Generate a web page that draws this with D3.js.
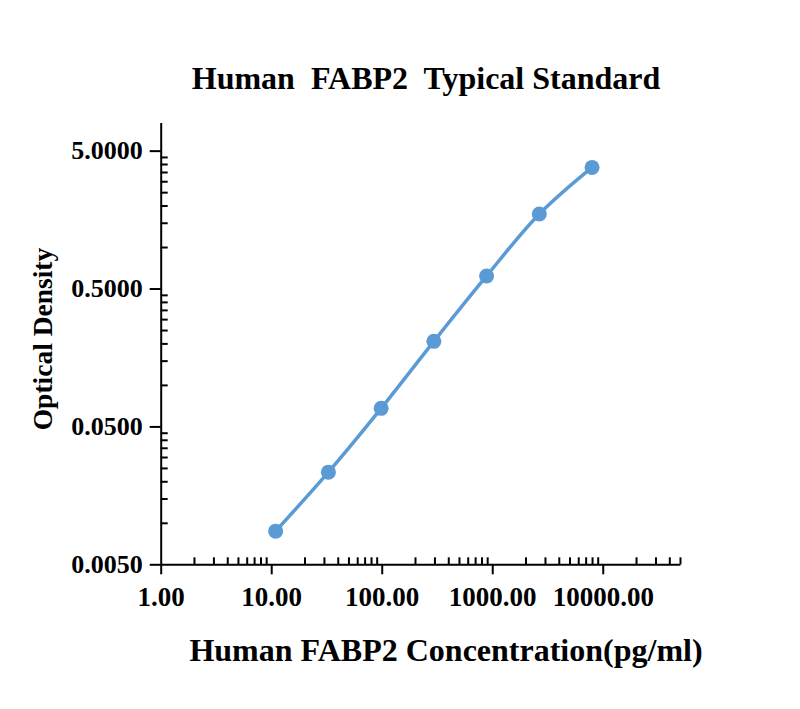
<!DOCTYPE html>
<html>
<head>
<meta charset="utf-8">
<script src="https://cdn.jsdelivr.net/npm/d3@7"></script>
<style>
  body { margin: 0; background: #fff; }
  text { font-family: "Liberation Serif", "Times New Roman", serif; font-weight: bold; fill: #000; }
</style>
</head>
<body>
<svg id="chart" width="800" height="709"></svg>
<script>
// standard curve, 3-fold dilutions
const concentrations = [10.97, 32.92, 98.77, 296.3, 888.9, 2666.7, 8000]
const opticalDensity = [0.0087, 0.0233, 0.0676, 0.207, 0.617, 1.735, 3.78]

const xMajorTicks = [1, 10, 100, 1000, 10000]
const yMajorTicks = [0.005, 0.05, 0.5, 5]

const TITLE = 'Human  FABP2  Typical Standard'
const X_TITLE = 'Human FABP2 Concentration(pg/ml)'
const Y_TITLE = 'Optical Density'

const svg = d3.select('#chart')
const blue = '#5b9bd5'

const x = d3.scaleLog().domain([1, 50000]).range([160.7, 680])
const y = d3.scaleLog().domain([0.005, 8]).range([564.3, 122.5])

// minor ticks: k * 10^n, k = 2..9
const xMinorTicks = []
for (let p = 0; p <= 4; p++) {
  for (let k = 2; k <= 9; k++) {
    const v = k * Math.pow(10, p)
    if (v <= 50000) xMinorTicks.push(v)
  }
}
const yMinorTicks = []
yMajorTicks.slice(0, 3).forEach((base) => {
  for (let k = 2; k <= 9; k++) yMinorTicks.push(base * k)
})

function styleAxis(g, size) {
  g.selectAll('path, line').attr('stroke', '#000').attr('stroke-width', 2)
  g.selectAll('text').attr('font-size', size).attr('fill', '#000')
}

// x axis
const xMinor = svg.append('g')
  .attr('transform', `translate(0,${y(0.005)})`)
  .call(d3.axisBottom(x).tickValues(xMinorTicks).tickSizeInner(-7).tickSizeOuter(0).tickFormat(''))
xMinor.call(styleAxis, 27)
const xMajor = svg.append('g')
  .attr('transform', `translate(0,${y(0.005)})`)
  .call(d3.axisBottom(x).tickValues(xMajorTicks).tickSize(10).tickPadding(13).tickFormat(d3.format('.2f')))
xMajor.call(styleAxis, 27)
xMajor.select('.domain').remove()

// y axis
const yMinor = svg.append('g')
  .attr('transform', `translate(${x(1)},0)`)
  .call(d3.axisLeft(y).tickValues(yMinorTicks).tickSizeInner(-7).tickSizeOuter(0).tickFormat(''))
yMinor.call(styleAxis, 26)
const yMajor = svg.append('g')
  .attr('transform', `translate(${x(1)},0)`)
  .call(d3.axisLeft(y).tickValues(yMajorTicks).tickSize(11).tickPadding(7).tickFormat(d3.format('.4f')))
yMajor.call(styleAxis, 26)
yMajor.select('.domain').remove()

// fitted curve
const points = concentrations.map((c, i) => ({ c, od: opticalDensity[i] }))
const line = d3.line()
  .x((d) => x(d.c))
  .y((d) => y(d.od))
  .curve(d3.curveCatmullRom.alpha(0.5))

svg.append('path')
  .datum(points)
  .attr('d', line)
  .attr('fill', 'none')
  .attr('stroke', blue)
  .attr('stroke-width', 3.5)

svg.append('g')
  .selectAll('circle')
  .data(points)
  .join('circle')
  .attr('cx', (d) => x(d.c))
  .attr('cy', (d) => y(d.od))
  .attr('r', 7.5)
  .attr('fill', blue)

// titles
svg.append('text')
  .attr('x', 426)
  .attr('y', 89)
  .attr('text-anchor', 'middle')
  .attr('font-size', 32)
  .attr('xml:space', 'preserve')
  .style('white-space', 'pre')
  .text(TITLE)

svg.append('text')
  .attr('x', 446)
  .attr('y', 661)
  .attr('text-anchor', 'middle')
  .attr('font-size', 32)
  .text(X_TITLE)

svg.append('text')
  .attr('transform', 'translate(52,339) rotate(-90)')
  .attr('text-anchor', 'middle')
  .attr('font-size', 27.5)
  .text(Y_TITLE)
</script>
</body>
</html>
